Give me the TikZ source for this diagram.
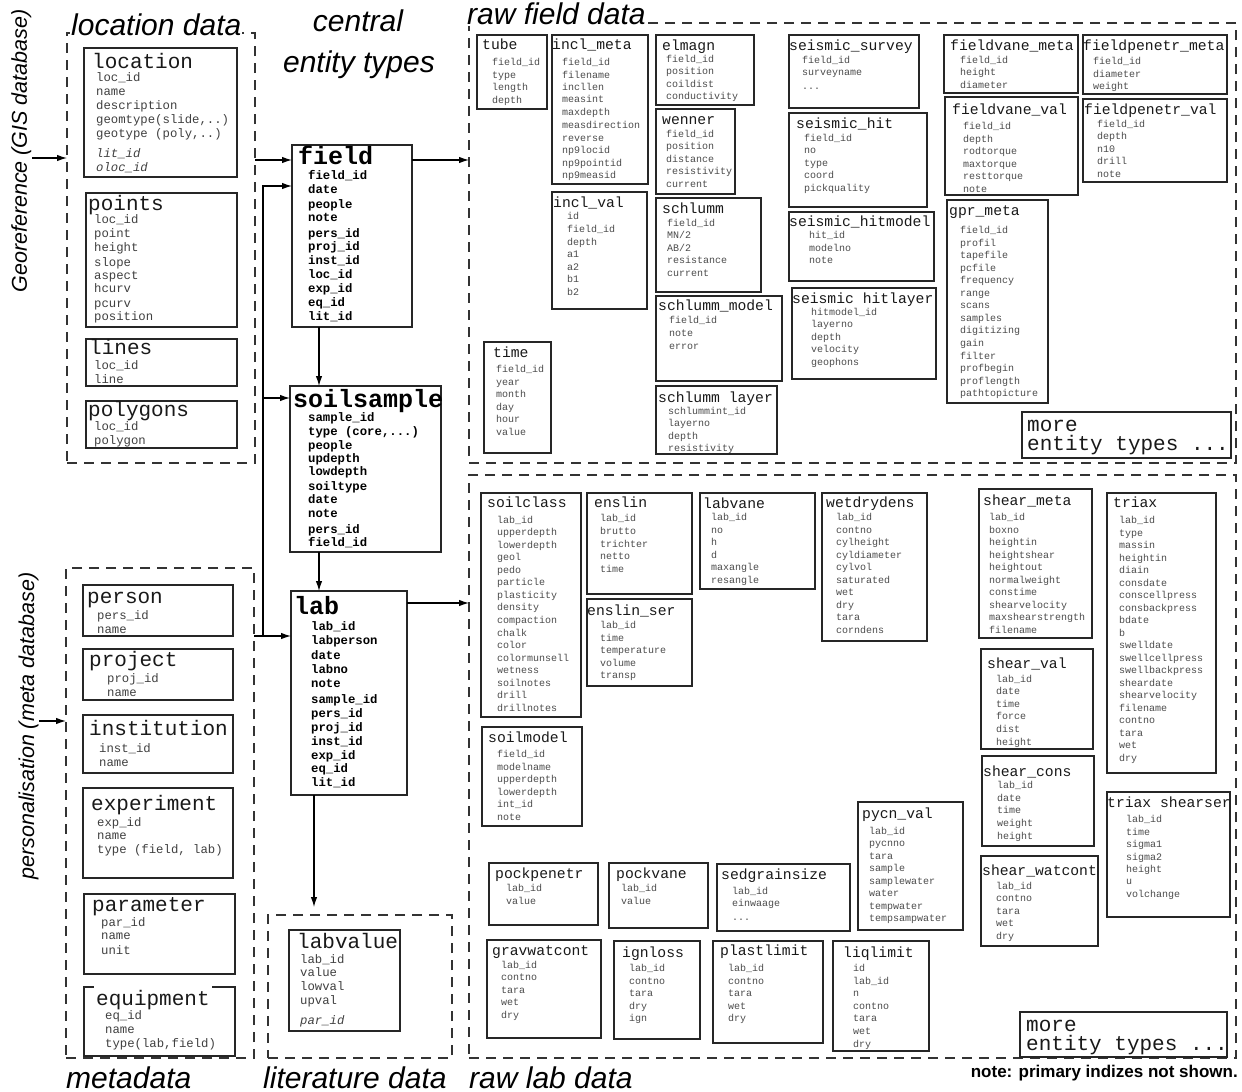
\documentclass[tikz,border=0pt]{standalone}
\usepackage{fontspec}
\setmainfont{Liberation Sans}
\setmonofont{Liberation Mono}
\usetikzlibrary{arrows.meta,fit}

\tikzset{
  tbox/.style={draw=black!85, line width=1.2pt, inner sep=0pt, outer sep=0pt},
  group/.style={draw=black!80, line width=1.3pt, dash pattern=on 10pt off 7pt, inner sep=0pt, outer sep=0pt},
  rawhead/.style={font=\fontsize{14.7pt}{15pt}\selectfont\ttfamily, anchor=mid west, inner sep=0pt, text=black!90, yshift=-2.5pt},
  rawitem/.style={font=\fontsize{10pt}{10pt}\selectfont\ttfamily, anchor=mid west, inner sep=0pt, text=black!70, yshift=-1pt},
  bighead/.style={font=\fontsize{21pt}{21pt}\selectfont\ttfamily, anchor=mid west, inner sep=0pt, text=black!90, yshift=-4pt},
  bigitem/.style={font=\fontsize{12.3pt}{12pt}\selectfont\ttfamily, anchor=mid west, inner sep=0pt, text=black!75, yshift=-2pt},
  eqhead/.style={bighead, fill=white, inner xsep=2pt, inner ysep=4pt},
  eqitem/.style={bigitem},
  corehead/.style={font=\fontsize{25pt}{25pt}\selectfont\ttfamily\bfseries, anchor=mid west, inner sep=0pt, yshift=-5pt},
  coreitem/.style={font=\fontsize{12.3pt}{12pt}\selectfont\ttfamily\bfseries, anchor=mid west, inner sep=0pt, yshift=-2pt},
  morehead/.style={bighead},
  moreitem/.style={bighead, yshift=3pt},
  arr/.style={-{Latex[length=10pt,width=6.5pt]}, line width=1.2pt, draw=black},
  grouplabel/.style={font=\fontsize{30pt}{30pt}\selectfont\itshape, inner sep=1pt, anchor=base west},
  sidelabel/.style={font=\fontsize{21.5pt}{22pt}\selectfont\itshape, rotate=90, anchor=base, inner sep=0pt},
}

% entity table: name, style family, corner, corner, title position, title, item x, list of y/item
\newcommand\etab[8]{%
  \node[tbox, fit={#3 #4}] (#1) {};
  \node[#2head] (#1-h) at #5 {#6};
  \foreach \ey/\et [count=\en] in {#8}{%
    \node[#2item] (#1-\en) at (#7,\ey) {\et};
  }%
}

\begin{document}
\catcode`\_=12
\begin{tikzpicture}[x=1pt,y=-1pt]
\useasboundingbox[fill=white] (0,0) rectangle (1242,1092);

% ---- dashed groups ----
\node[group, fit={(67,33) (255,463)}] (locdata) {};
\node[group, fit={(66,568) (254,1058)}] (metadata) {};
\node[group, fit={(469,23) (1236,463)}] (rawfield) {};
\node[group, fit={(469,475) (1236,1058)}] (rawlab) {};
\node[group, fit={(268,915) (452,1058)}] (litdata) {};

% ---- group labels ----
\node[grouplabel, fill=white] (locdata-l) at (70,35) {location data};
\node[grouplabel, fill=white] (rawfield-l) at (466,24.5) {raw field data};
\node[grouplabel] (metadata-l) at (65,1088) {metadata};
\node[grouplabel] (litdata-l) at (262,1088) {literature data};
\node[grouplabel] (rawlab-l) at (468,1088) {raw lab data};
\node[grouplabel, anchor=base] (central-l) at (358,31) {central};
\node[grouplabel, anchor=base] (entity-l) at (359,72) {entity types};
\node[sidelabel] (georef) at (27,151) {Georeference (GIS database)};
\node[sidelabel] (persona) at (34,726) {personalisation (meta database)};
\node[font=\fontsize{17pt}{17pt}\selectfont\bfseries, anchor=base east, inner sep=0pt] (note) at (1238,1077) {note: primary indizes not shown.};

% ---- location data ----
\etab{location}{big}{(84,48)}{(237,177)}{(92,62)}{location}{96}{77/loc_id, 91/name, 105/description, 119/{geomtype(slide,..)}, 133/{geotype (poly,..)}, 153/{\itshape lit_id}, 167/{\itshape oloc_id}}
\etab{points}{big}{(86,193)}{(237,327)}{(88,204)}{points}{94}{219/loc_id, 233/point, 247/height, 262/slope, 275/aspect, 288/hcurv, 303/pcurv, 316/position}
\etab{lines}{big}{(86,339)}{(237,386)}{(89,348)}{lines}{94}{365/loc_id, 379/line}
\etab{polygons}{big}{(86,401)}{(237,448)}{(88,410)}{polygons}{94}{426/loc_id, 440/polygon}

% ---- metadata ----
\etab{person}{big}{(83,585)}{(233,636)}{(87,597)}{person}{97}{615/pers_id, 629/name}
\etab{project}{big}{(83,649)}{(233,700)}{(89,660)}{project}{107}{678/proj_id, 692/name}
\etab{institution}{big}{(83,715)}{(233,773)}{(89,729)}{institution}{99}{748/inst_id, 762/name}
\etab{experiment}{big}{(83,788)}{(233,878)}{(91,804)}{experiment}{97}{822/exp_id, 835/name, 849/{type (field, lab)}}
\etab{parameter}{big}{(84,894)}{(235,974)}{(92,905)}{parameter}{101}{922/par_id, 935/name, 950/unit}
\etab{equipment}{eq}{(84,987)}{(235,1056)}{(94,999)}{equipment}{105}{1015/eq_id, 1029/name, 1043/{type(lab,field)}}

% ---- central entity types ----
\etab{field}{core}{(292,145)}{(412,327)}{(298,157)}{field}{308}{175/field_id, 189/date, 204/people, 217/note, 233/pers_id, 246/proj_id, 260/inst_id, 274/loc_id, 288/exp_id, 302/eq_id, 316/lit_id}
\etab{soilsample}{core}{(290,386)}{(441,552)}{(293,400)}{soilsample}{308}{417/sample_id, 431/{type (core,...)}, 445/people, 458/updepth, 471/lowdepth, 486/soiltype, 499/date, 513/note, 529/pers_id, 542/field_id}
\etab{lab}{core}{(291,591)}{(407,795)}{(294,607)}{lab}{311}{626/lab_id, 640/labperson, 655/date, 669/labno, 683/note, 699/sample_id, 713/pers_id, 727/proj_id, 741/inst_id, 755/exp_id, 768/eq_id, 782/lit_id}
\etab{labvalue}{big}{(289,930)}{(400,1031)}{(297,942)}{labvalue}{300}{959/lab_id, 972/value, 986/lowval, 1000/upval, 1020/{\itshape par_id}}

% ---- raw field data ----
\etab{tube}{raw}{(477,35)}{(547,109)}{(482,44)}{tube}{492}{62/field_id, 75/type, 87/length, 100/depth}
\etab{inclmeta}{raw}{(552,35)}{(648,184)}{(552,44)}{incl_meta}{562}{62/field_id, 75/filename, 87/incllen, 99/measint, 112/maxdepth, 125/measdirection, 138/reverse, 150/np9locid, 163/np9pointid, 175/np9measid}
\etab{elmagn}{raw}{(656,35)}{(754,105)}{(662,45)}{elmagn}{666}{59/field_id, 71/position, 84/coildist, 96/conductivity}
\etab{wenner}{raw}{(656,109)}{(735,194)}{(662,119)}{wenner}{666}{134/field_id, 146/position, 159/distance, 171/resistivity, 184/current}
\etab{inclval}{raw}{(552,192)}{(647,309)}{(553,202)}{incl_val}{567}{216/id, 229/field_id, 242/depth, 254/a1, 267/a2, 279/b1, 292/b2}
\etab{schlumm}{raw}{(656,198)}{(761,292)}{(662,208)}{schlumm}{667}{223/field_id, 235/{MN/2}, 248/{AB/2}, 260/resistance, 273/current}
\etab{schlummmodel}{raw}{(656,296)}{(782,381)}{(658,305)}{schlumm_model}{669}{320/field_id, 333/note, 346/error}
\etab{schlummlayer}{raw}{(656,386)}{(777,454)}{(658,397)}{schlumm layer}{668}{411/schlummint_id, 423/layerno, 436/depth, 448/resistivity}
\etab{time}{raw}{(484,342)}{(551,453)}{(493,352)}{time}{496}{369/field_id, 382/year, 394/month, 407/day, 419/hour, 432/value}
\etab{seissurvey}{raw}{(789,35)}{(919,108)}{(789,45)}{seismic_survey}{802}{60/field_id, 72/surveyname, 86/{...}}
\etab{seishit}{raw}{(789,113)}{(927,207)}{(796,123)}{seismic_hit}{804}{138/field_id, 150/no, 163/type, 175/coord, 188/pickquality}
\etab{seishitmodel}{raw}{(789,212)}{(934,281)}{(789,221)}{seismic_hitmodel}{809}{235/hit_id, 248/modelno, 260/note}
\etab{seishitlayer}{raw}{(792,288)}{(936,379)}{(792,298)}{seismic hitlayer}{811}{312/hitmodel_id, 324/layerno, 337/depth, 349/velocity, 362/geophons}
\etab{fvanemeta}{raw}{(944,35)}{(1078,93)}{(950,45)}{fieldvane_meta}{960}{60/field_id, 72/height, 85/diameter}
\etab{fvaneval}{raw}{(945,97)}{(1078,195)}{(952,109)}{fieldvane_val}{963}{126/field_id, 139/depth, 151/rodtorque, 164/maxtorque, 176/resttorque, 189/note}
\etab{gprmeta}{raw}{(947,200)}{(1048,403)}{(949,210)}{gpr_meta}{960}{230/field_id, 243/profil, 255/tapefile, 268/pcfile, 280/frequency, 293/range, 305/scans, 318/samples, 330/digitizing, 343/gain, 356/filter, 368/profbegin, 381/proflength, 393/pathtopicture}
\etab{fpenmeta}{raw}{(1083,35)}{(1227,94)}{(1083,45)}{fieldpenetr_meta}{1093}{61/field_id, 74/diameter, 86/weight}
\etab{fpenval}{raw}{(1083,99)}{(1227,182)}{(1084,109)}{fieldpenetr_val}{1097}{124/field_id, 136/depth, 149/n10, 161/drill, 174/note}
\etab{morefield}{more}{(1022,412)}{(1231,458)}{(1027,425)}{more}{1027}{447/{entity types ...}}

% ---- raw lab data ----
\etab{soilclass}{raw}{(481,493)}{(581,717)}{(487,502)}{soilclass}{497}{520/lab_id, 532/upperdepth, 545/lowerdepth, 557/geol, 570/pedo, 582/particle, 595/plasticity, 607/density, 620/compaction, 633/chalk, 645/color, 658/colormunsell, 670/wetness, 683/soilnotes, 695/drill, 708/drillnotes}
\etab{enslin}{raw}{(587,493)}{(692,594)}{(594,502)}{enslin}{600}{518/lab_id, 531/brutto, 544/trichter, 556/netto, 569/time}
\etab{enslinser}{raw}{(587,599)}{(692,686)}{(587,610)}{enslin_ser}{600}{625/lab_id, 638/time, 650/temperature, 663/volume, 675/transp}
\etab{labvane}{raw}{(700,493)}{(815,589)}{(703,503)}{labvane}{711}{517/lab_id, 530/no, 542/h, 555/d, 567/maxangle, 580/resangle}
\etab{soilmodel}{raw}{(482,727)}{(582,826)}{(488,737)}{soilmodel}{497}{754/field_id, 767/modelname, 779/upperdepth, 792/lowerdepth, 804/int_id, 817/note}
\etab{wetdrydens}{raw}{(822,493)}{(927,641)}{(826,502)}{wetdrydens}{836}{517/lab_id, 530/contno, 542/cylheight, 555/cyldiameter, 567/cylvol, 580/saturated, 592/wet, 605/dry, 617/tara, 630/corndens}
\etab{shearmeta}{raw}{(979,489)}{(1092,638)}{(983,500)}{shear_meta}{989}{517/lab_id, 530/boxno, 542/heightin, 555/heightshear, 567/heightout, 580/normalweight, 592/constime, 605/shearvelocity, 617/maxshearstrength, 630/filename}
\etab{triax}{raw}{(1107,493)}{(1216,773)}{(1113,502)}{triax}{1119}{520/lab_id, 532.5/type, 545/massin, 557.5/heightin, 570/diain, 582.5/consdate, 595/conscellpress, 607.5/consbackpress, 620/bdate, 632.5/b, 645/swelldate, 657.5/swellcellpress, 670/swellbackpress, 682.5/sheardate, 695/shearvelocity, 707.5/filename, 720/contno, 732.5/tara, 745/wet, 757.5/dry}
\etab{shearval}{raw}{(981,649)}{(1093,749)}{(987,663)}{shear_val}{996}{679/lab_id, 691/date, 704/time, 716/force, 729/dist, 742/height}
\etab{shearcons}{raw}{(982,756)}{(1094,846)}{(983,771)}{shear_cons}{997}{785/lab_id, 798/date, 810/time, 823/weight, 836/height}
\etab{shearwatcont}{raw}{(981,856)}{(1098,946)}{(982,870)}{shear_watcont}{996}{886/lab_id, 898/contno, 911/tara, 923/wet, 936/dry}
\etab{triaxshearser}{raw}{(1107,792)}{(1230,917)}{(1107,802)}{triax shearser}{1126}{819/lab_id, 832/time, 844/sigma1, 857/sigma2, 869/height, 881/u, 894/volchange}
\etab{pycnval}{raw}{(858,802)}{(963,930)}{(862,813)}{pycn_val}{869}{831/lab_id, 843/pycnno, 856/tara, 868/sample, 881/samplewater, 893/water, 906/tempwater, 918/tempsampwater}
\etab{pockpenetr}{raw}{(489,863)}{(598,925)}{(495,873)}{pockpenetr}{506}{888/lab_id, 901/value}
\etab{pockvane}{raw}{(609,863)}{(708,928)}{(616,873)}{pockvane}{621}{888/lab_id, 901/value}
\etab{sedgrainsize}{raw}{(717,864)}{(850,931)}{(721,874)}{sedgrainsize}{732}{891/lab_id, 903/einwaage, 917/{...}}
\etab{gravwatcont}{raw}{(487,940)}{(601,1038)}{(492,950)}{gravwatcont}{501}{965/lab_id, 977/contno, 990/tara, 1002/wet, 1015/dry}
\etab{ignloss}{raw}{(614,941)}{(700,1039)}{(622,952)}{ignloss}{629}{968/lab_id, 981/contno, 993/tara, 1006/dry, 1018/ign}
\etab{plastlimit}{raw}{(713,941)}{(823,1043)}{(720,950)}{plastlimit}{728}{968/lab_id, 981/contno, 993/tara, 1006/wet, 1018/dry}
\etab{liqlimit}{raw}{(833,941)}{(929,1051)}{(843,952)}{liqlimit}{853}{968/id, 981/lab_id, 993/n, 1006/contno, 1018/tara, 1031/wet, 1044/dry}
\etab{morelab}{more}{(1020,1012)}{(1227,1057)}{(1026,1025)}{more}{1026}{1047/{entity types ...}}

% ---- connectors ----
\coordinate (georef-src) at (32,158);
\coordinate (persona-src) at (39,721);
\draw[arr] (georef-src) -- (locdata.west |- georef-src);
\draw[arr] (persona-src) -- (metadata.west |- persona-src);

\path ([yshift=2pt]field-h.mid west) coordinate (fieldrow);
\draw[arr] (locdata.east |- fieldrow) -- (field.west |- fieldrow);
\draw[arr] (field.east |- fieldrow) -- (rawfield.west |- fieldrow);

\coordinate (bus-b) at (263,636);
\coordinate (bus-m) at (263,398);
\coordinate (bus-t) at (263,186);
\draw[arr] (metadata.east |- bus-b) -- (lab.west |- bus-b);
\draw[arr] (bus-b) -- (bus-t) -- (field.west |- bus-t);
\draw[arr] (bus-m) -- (soilsample.west |- bus-m);

\path ([xshift=27pt]field.south west) coordinate (f2s);
\draw[arr] (f2s) -- (f2s |- soilsample.north);
\path ([xshift=29pt]soilsample.south west) coordinate (s2l);
\draw[arr] (s2l) -- (s2l |- lab.north);
\path ([xshift=23pt]lab.south west) coordinate (l2v);
\draw[arr, shorten >=8pt] (l2v) -- (l2v |- litdata.north);
\path ([yshift=9pt]lab-h.mid west) coordinate (labrow);
\draw[arr] (lab.east |- labrow) -- (rawlab.west |- labrow);
\end{tikzpicture}
\end{document}
